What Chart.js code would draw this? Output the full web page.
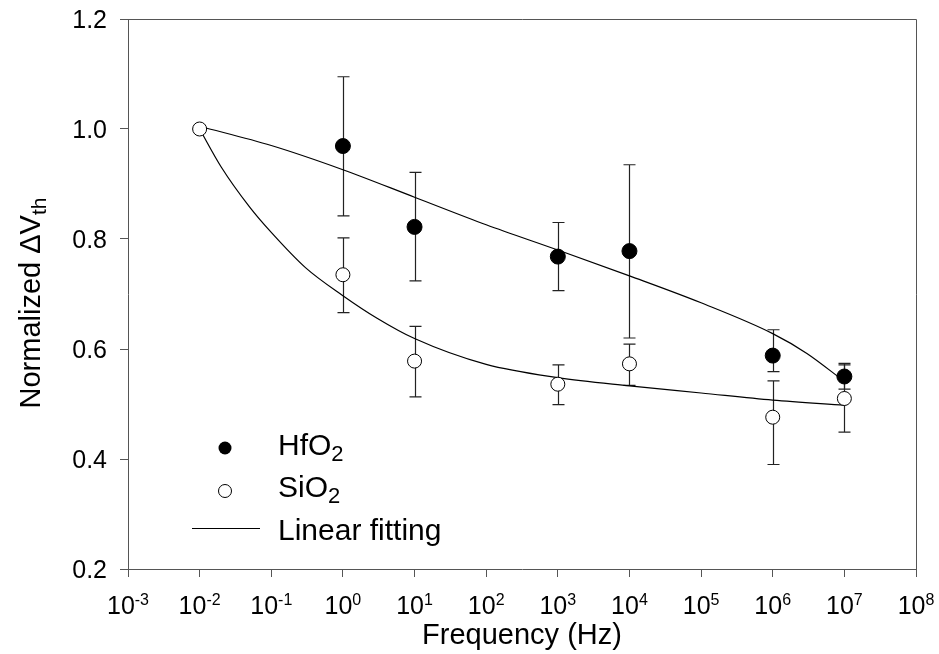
<!DOCTYPE html>
<html>
<head>
<meta charset="utf-8">
<script src="https://cdn.jsdelivr.net/npm/chart.js@4.4.0/dist/chart.umd.min.js"></script>
<style>
  html, body { margin: 0; padding: 0; background: #fff; }
  canvas { display: block; }
</style>
</head>
<body>
<canvas id="chart" width="939" height="654"></canvas>
<script>
/* ===== data ===== */
const FONT = "'Liberation Sans', Arial, sans-serif";

const xTickValues = [1e-3, 1e-2, 1e-1, 1, 1e1, 1e2, 1e3, 1e4, 1e5, 1e6, 1e7, 1e8];
const xTickExponents = ['-3', '-2', '-1', '0', '1', '2', '3', '4', '5', '6', '7', '8'];
const yTickValues = [0.2, 0.4, 0.6, 0.8, 1.0, 1.2];
const yTickLabels = ['0.2', '0.4', '0.6', '0.8', '1.0', '1.2'];

// HfO2 (filled circles)
const hfFreq = [1, 1e1, 1e3, 1e4, 1e6, 1e7];
const hfValues = [0.969, 0.822, 0.768, 0.778, 0.588, 0.550];
const hfErrHigh = [1.095, 0.921, 0.830, 0.935, 0.635, 0.574];
const hfErrLow = [0.842, 0.724, 0.706, 0.620, 0.559, 0.527];

// SiO2 (open circles)
const siFreq = [1e-2, 1, 1e1, 1e3, 1e4, 1e6, 1e7];
const siValues = [1.000, 0.735, 0.578, 0.536, 0.573, 0.476, 0.510];
const siErrHigh = [null, 0.802, 0.641, 0.571, 0.609, 0.542, 0.571];
const siErrLow = [null, 0.666, 0.513, 0.499, 0.534, 0.390, 0.449];

// fitted curves, sampled along the drawn lines
const hfFitFreq = [1e-2, 1e-1, 1, 1e1, 1e2, 1e3, 1e4, 1e5, 1e6, 3e6, 1e7];
const hfFit = [1.005, 0.970, 0.926, 0.876, 0.826, 0.780, 0.733, 0.684, 0.628, 0.592, 0.541];
const siFitFreq = [1e-2, 2e-2, 5e-2, 1e-1, 3e-1, 1, 3, 1e1, 1e2, 1e3, 1e4, 1e5, 1e6, 1e7];
const siFit = [1.000, 0.931, 0.858, 0.812, 0.748, 0.697, 0.656, 0.619, 0.572, 0.548, 0.533, 0.520, 0.507, 0.498];

const AXIS_COLOR = '#555';
const toPoints = (xs, ys) => xs.map((x, i) => ({ x, y: ys[i] }));

/* ===== plugins ===== */
const errorBars = {
  id: 'errorBars',
  beforeDatasetsDraw(chart) {
    const { ctx, scales: { x, y } } = chart;
    const sets = [
      [hfFreq, hfErrHigh, hfErrLow],
      [siFreq, siErrHigh, siErrLow],
    ];
    ctx.save();
    ctx.strokeStyle = '#222';
    ctx.lineWidth = 1.2;
    sets.forEach(([fr, hi, lo]) => {
      fr.forEach((f, i) => {
        if (hi[i] == null) return;
        const px = Math.round(x.getPixelForValue(f)) + 0.5;
        const top = y.getPixelForValue(hi[i]);
        const bot = y.getPixelForValue(lo[i]);
        ctx.beginPath();
        ctx.moveTo(px, top); ctx.lineTo(px, bot);
        ctx.moveTo(px - 6, top); ctx.lineTo(px + 6, top);
        ctx.moveTo(px - 6, bot); ctx.lineTo(px + 6, bot);
        ctx.stroke();
      });
    });
    ctx.restore();
  }
};

function drawSub(ctx, parts, x, y) {
  // parts: [text, size, dy]
  let cx = x;
  parts.forEach(([t, size, dy]) => {
    ctx.font = `${size}px ${FONT}`;
    ctx.fillText(t, cx, y + dy);
    cx += ctx.measureText(t).width;
  });
}
function widthOf(ctx, parts) {
  return parts.reduce((w, [t, size]) => {
    ctx.font = `${size}px ${FONT}`;
    return w + ctx.measureText(t).width;
  }, 0);
}

const textLayer = {
  id: 'textLayer',
  afterDraw(chart) {
    const { ctx, chartArea: a, scales: { x, y } } = chart;
    ctx.save();
    ctx.fillStyle = '#000';
    ctx.textAlign = 'left';
    ctx.textBaseline = 'alphabetic';

    // frame top and right
    ctx.strokeStyle = AXIS_COLOR;
    ctx.lineWidth = 1;
    ctx.beginPath();
    ctx.moveTo(a.left, Math.round(a.top) + 0.5);
    ctx.lineTo(Math.round(a.right) + 0.5, Math.round(a.top) + 0.5);
    ctx.lineTo(Math.round(a.right) + 0.5, a.bottom);
    ctx.stroke();

    // x tick labels 10^n
    xTickValues.forEach((v, i) => {
      const parts = [['10', 25, 0], [xTickExponents[i], 16, -9]];
      const w = widthOf(ctx, parts);
      drawSub(ctx, parts, x.getPixelForValue(v) - w / 2, a.bottom + 45);
    });

    // y tick labels
    ctx.font = `25px ${FONT}`;
    ctx.textAlign = 'right';
    yTickValues.forEach((v, i) => {
      ctx.fillText(yTickLabels[i], a.left - 21, y.getPixelForValue(v) + 9);
    });
    ctx.textAlign = 'left';

    // x title
    ctx.font = `29px ${FONT}`;
    ctx.textAlign = 'center';
    ctx.fillText('Frequency (Hz)', (a.left + a.right) / 2, a.bottom + 75);
    ctx.textAlign = 'left';

    // y title
    const yParts = [['Normalized \u0394V', 29, 0], ['th', 21, 6]];
    const yw = widthOf(ctx, yParts);
    ctx.save();
    ctx.translate(40, 303);
    ctx.rotate(-Math.PI / 2);
    drawSub(ctx, yParts, -yw / 2, 0);
    ctx.restore();

    // legend
    ctx.fillStyle = '#000';
    ctx.beginPath(); ctx.arc(225, 448, 6.5, 0, Math.PI * 2); ctx.fill();
    ctx.strokeStyle = '#000';
    ctx.fillStyle = '#fff';
    ctx.beginPath(); ctx.arc(225, 491, 6.5, 0, Math.PI * 2); ctx.fill(); ctx.stroke();
    ctx.beginPath(); ctx.moveTo(192, 528.5); ctx.lineTo(260, 528.5); ctx.stroke();
    ctx.fillStyle = '#000';
    drawSub(ctx, [['HfO', 30, 0], ['2', 22, 6]], 278, 455);
    drawSub(ctx, [['SiO', 30, 0], ['2', 22, 6]], 278, 497);
    drawSub(ctx, [['Linear fitting', 30, 0]], 278, 540);
    ctx.restore();
  }
};

/* ===== chart ===== */
new Chart(document.getElementById('chart').getContext('2d'), {
  type: 'line',
  data: {
    datasets: [
      {
        label: 'HfO2',
        data: toPoints(hfFreq, hfValues),
        showLine: false,
        pointRadius: 7.5,
        pointBackgroundColor: '#000',
        pointBorderColor: '#000',
        pointBorderWidth: 1,
        order: 1,
      },
      {
        label: 'SiO2',
        data: toPoints(siFreq, siValues),
        showLine: false,
        pointRadius: 7,
        pointBackgroundColor: '#fff',
        pointBorderColor: '#000',
        pointBorderWidth: 1,
        order: 2,
      },
      {
        label: 'HfO2 fit',
        data: toPoints(hfFitFreq, hfFit),
        borderColor: '#000',
        borderWidth: 1.2,
        pointRadius: 0,
        cubicInterpolationMode: 'monotone',
        fill: false,
        order: 3,
      },
      {
        label: 'SiO2 fit',
        data: toPoints(siFitFreq, siFit),
        borderColor: '#000',
        borderWidth: 1.2,
        pointRadius: 0,
        cubicInterpolationMode: 'monotone',
        fill: false,
        order: 4,
      },
    ]
  },
  options: {
    responsive: false,
    animation: false,
    layout: { padding: { left: 120, right: 23, top: 19, bottom: 77 } },
    plugins: {
      legend: { display: false },
      tooltip: { enabled: false },
    },
    scales: {
      x: {
        type: 'logarithmic',
        min: 1e-3,
        max: 1e8,
        afterBuildTicks: scale => { scale.ticks = xTickValues.map(v => ({ value: v })); },
        ticks: { display: false },
        grid: { drawOnChartArea: false, drawTicks: true, tickLength: 8, color: AXIS_COLOR },
        border: { color: AXIS_COLOR, width: 1 },
      },
      y: {
        type: 'linear',
        min: 0.2,
        max: 1.2,
        afterBuildTicks: scale => { scale.ticks = yTickValues.map(v => ({ value: v })); },
        ticks: { display: false },
        grid: { drawOnChartArea: false, drawTicks: true, tickLength: 8, color: AXIS_COLOR },
        border: { color: AXIS_COLOR, width: 1 },
      }
    }
  },
  plugins: [errorBars, textLayer]
});
</script>
</body>
</html>
